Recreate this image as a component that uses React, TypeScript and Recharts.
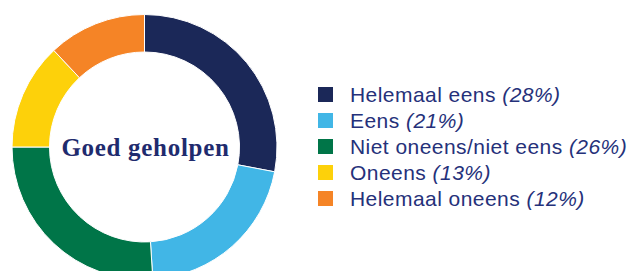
import React from 'react';
import { PieChart, Pie, Cell, Legend } from 'recharts';

const categories = ['Helemaal eens', 'Eens', 'Niet oneens/niet eens', 'Oneens', 'Helemaal oneens'];
const shares = [28, 21, 26, 13, 12];
const colors = ['#1B2858', '#41B6E6', '#007548', '#FDD10A', '#F58426'];

const data = categories.map((name, i) => ({ name, value: shares[i], color: colors[i] }));

const LegendList = () => (
  <div
    style={{
      fontFamily: '"Liberation Sans", Arial, sans-serif',
      fontSize: 21,
      letterSpacing: 0.45,
      color: '#25317A',
    }}
  >
    {data.map((d) => (
      <div key={d.name} style={{ display: 'flex', alignItems: 'center', height: 25.8 }}>
        <span style={{ width: 15, height: 15, background: d.color, marginRight: 17, display: 'inline-block', flexShrink: 0 }} />
        <span style={{ lineHeight: '21px', whiteSpace: 'nowrap' }}>
          {d.name} <i>({d.value}%)</i>
        </span>
      </div>
    ))}
  </div>
);

const App: React.FC = () => {
  return (
    <div style={{ position: 'absolute', left: 0, top: 0, width: 642, height: 271, background: '#fff' }}>
      <PieChart width={642} height={271} margin={{ top: 0, right: 0, bottom: 0, left: 0 }}>
        <Pie
          data={data}
          dataKey="value"
          nameKey="name"
          cx={144.5}
          cy={147}
          innerRadius={95}
          outerRadius={132.5}
          startAngle={90}
          endAngle={-270}
          stroke="#ffffff"
          strokeWidth={1}
          isAnimationActive={false}
        >
          {data.map((d) => (
            <Cell key={d.name} fill={d.color} />
          ))}
        </Pie>
        <text
          x={145.5}
          y={155.5}
          textAnchor="middle"
          fill="#1F2B6E"
          style={{ fontFamily: '"Liberation Serif", serif', fontWeight: 700, fontSize: 25, letterSpacing: 0.7 }}
        >
          Goed geholpen
        </text>
        <Legend
          content={<LegendList />}
          wrapperStyle={{ position: 'absolute', left: 318, top: 82, width: 324 }}
        />
      </PieChart>
    </div>
  );
};

export default App;
